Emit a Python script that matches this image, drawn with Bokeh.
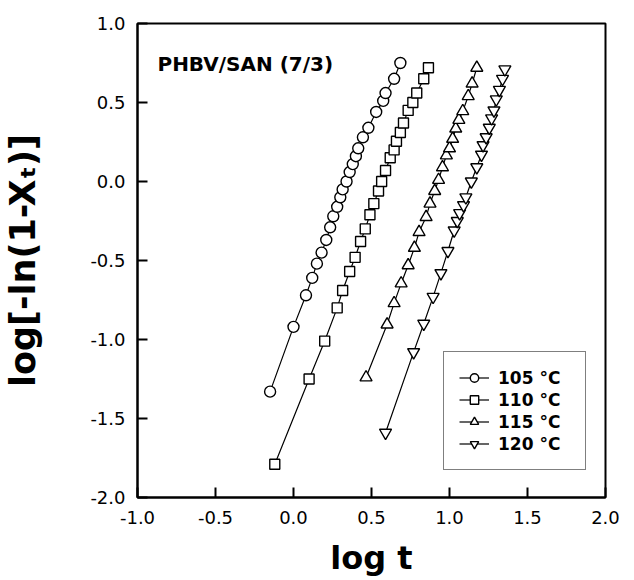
from bokeh.plotting import figure
from bokeh.models import Legend, LegendItem, Label, Range1d, FixedTicker
from bokeh.embed import file_html
from bokeh.resources import INLINE

# ---- data ----
x105 = [-0.15, 0.00, 0.08, 0.12, 0.15, 0.18, 0.21, 0.235, 0.255, 0.28, 0.30, 0.315,
        0.34, 0.36, 0.38, 0.40, 0.415, 0.445, 0.48, 0.53, 0.575, 0.59, 0.645, 0.685]
y105 = [-1.33, -0.92, -0.72, -0.61, -0.52, -0.45, -0.37, -0.29, -0.22, -0.16, -0.10, -0.05,
        0.00, 0.06, 0.11, 0.16, 0.21, 0.28, 0.34, 0.44, 0.51, 0.56, 0.65, 0.75]

x110 = [-0.12, 0.10, 0.20, 0.28, 0.315, 0.36, 0.395, 0.43, 0.46, 0.49, 0.515, 0.545,
        0.565, 0.59, 0.62, 0.645, 0.66, 0.685, 0.705, 0.735, 0.765, 0.79, 0.835, 0.865]
y110 = [-1.79, -1.25, -1.01, -0.80, -0.69, -0.57, -0.48, -0.38, -0.30, -0.21, -0.14, -0.06,
        0.00, 0.07, 0.15, 0.20, 0.255, 0.31, 0.37, 0.45, 0.50, 0.56, 0.65, 0.72]

x115 = [0.465, 0.60, 0.645, 0.69, 0.735, 0.775, 0.805, 0.85, 0.875, 0.905, 0.93, 0.955,
        0.98, 1.00, 1.02, 1.04, 1.06, 1.085, 1.12, 1.145, 1.175]
y115 = [-1.24, -0.905, -0.77, -0.645, -0.53, -0.42, -0.32, -0.225, -0.14, -0.06, 0.01, 0.09,
        0.165, 0.21, 0.27, 0.335, 0.39, 0.445, 0.54, 0.62, 0.72]

x120 = [0.59, 0.77, 0.835, 0.895, 0.945, 0.99, 1.03, 1.05, 1.065, 1.09, 1.105, 1.14,
        1.175, 1.205, 1.215, 1.235, 1.255, 1.27, 1.285, 1.30, 1.32, 1.34, 1.355]
y120 = [-1.59, -1.08, -0.90, -0.73, -0.58, -0.44, -0.31, -0.25, -0.20, -0.15, -0.10, 0.00,
        0.09, 0.17, 0.23, 0.28, 0.34, 0.40, 0.45, 0.52, 0.58, 0.65, 0.71]

series_labels = ["105 °C", "110 °C", "115 °C", "120 °C"]
series_markers = ["circle", "square", "triangle", "inverted_triangle"]

x_ticks = [-1.0, -0.5, 0.0, 0.5, 1.0, 1.5, 2.0]
x_tick_labels = ["-1.0", "-0.5", "0.0", "0.5", "1.0", "1.5", "2.0"]
y_ticks = [-2.0, -1.5, -1.0, -0.5, 0.0, 0.5, 1.0]
y_tick_labels = ["-2.0", "-1.5", "-1.0", "-0.5", "0.0", "0.5", "1.0"]

x_title = "log t"
y_title = "log[-ln(1-Xₜ)]"
annotation = "PHBV/SAN (7/3)"

FONT = "DejaVu Sans"

p = figure(width=625, height=580, x_range=Range1d(-1.0, 2.0), y_range=Range1d(-2.0, 1.0),
           output_backend="svg", toolbar_location=None,
           min_border_left=137, min_border_right=20, min_border_top=23, min_border_bottom=83)

p.xgrid.visible = False
p.ygrid.visible = False
p.outline_line_color = "black"
p.outline_line_width = 2
p.background_fill_color = "white"
p.border_fill_color = "white"

for ax, ticks, labels in ((p.xaxis[0], x_ticks, x_tick_labels), (p.yaxis[0], y_ticks, y_tick_labels)):
    ax.ticker = FixedTicker(ticks=ticks)
    ax.major_label_overrides = {t: l for t, l in zip(ticks, labels)}
    ax.axis_line_color = "black"
    ax.axis_line_width = 2
    ax.major_tick_in = 10
    ax.major_tick_out = 0
    ax.major_tick_line_width = 2
    ax.major_tick_line_color = "black"
    ax.minor_tick_line_color = None
    ax.major_label_text_font = FONT
    ax.major_label_text_font_size = "18px"
    ax.major_label_text_color = "black"
    ax.axis_label_text_font = FONT
    ax.axis_label_text_font_style = "bold"
    ax.axis_label_text_color = "black"

p.xaxis.axis_label = x_title
p.xaxis.axis_label_text_font_size = "32px"
p.xaxis.major_label_standoff = 13
p.xaxis.axis_label_standoff = 12

p.yaxis.axis_label = y_title
p.yaxis.axis_label_text_font_size = "35px"
p.yaxis.major_label_standoff = 12
p.yaxis.axis_label_standoff = 44

items = []
sizes = {"circle": 11, "square": 10, "triangle": 12, "inverted_triangle": 12}
for xs, ys, lab, mk in zip((x105, x110, x115, x120), (y105, y110, y115, y120),
                           series_labels, series_markers):
    ln = p.line(xs, ys, line_color="black", line_width=1.2)
    sc = p.scatter(xs, ys, marker=mk, size=sizes[mk], fill_color="white",
                   line_color="black", line_width=1.4)
    items.append(LegendItem(label=lab, renderers=[ln, sc]))

legend = Legend(items=items, location=(306, 27), orientation="vertical",
                border_line_color="black", border_line_width=1.5,
                background_fill_color="white", background_fill_alpha=1.0,
                label_text_font=FONT, label_text_font_style="bold",
                label_text_font_size="17px", label_text_color="black",
                glyph_width=30, glyph_height=21, label_standoff=9, label_width=72,
                label_height=21, padding=15, spacing=1, margin=0)
p.add_layout(legend, "center")

p.add_layout(Label(x=-0.872, y=0.745, text=annotation, text_font=FONT,
                   text_font_style="bold", text_font_size="20px", text_color="black",
                   text_baseline="alphabetic"))

open("out.html", "w").write(file_html(p, INLINE))
